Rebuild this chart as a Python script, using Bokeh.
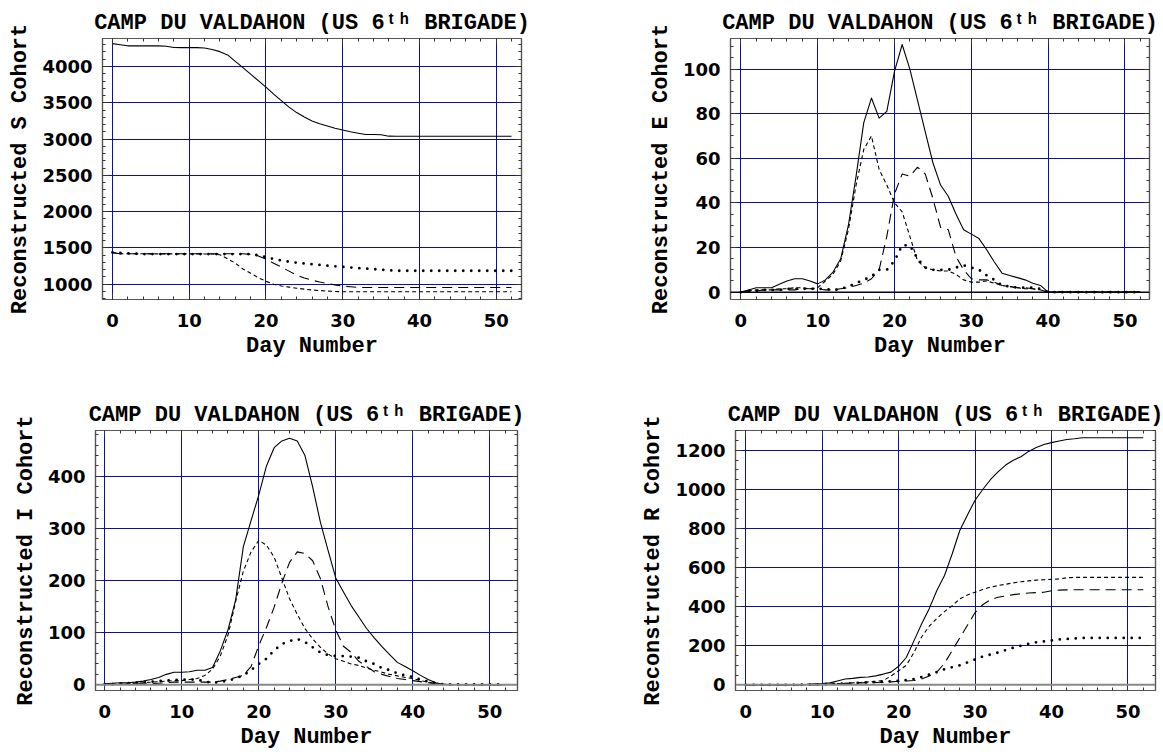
from bokeh.plotting import figure
from bokeh.models import (Range1d, SingleIntervalTicker, LinearAxis, Span,
                          CustomJSTickFormatter)
from bokeh.layouts import column, row
from bokeh.embed import file_html
from bokeh.resources import INLINE

# ---------------- data ----------------
days = list(range(53))

title_text = "CAMP DU VALDAHON (US 6\u1d57\u02b0 BRIGADE)"
x_label = "Day Number"

# S cohort
s_total = [4315, 4300, 4285, 4285, 4285, 4285, 4285, 4280, 4262, 4260,
           4260, 4260, 4255, 4235, 4205, 4160, 4070, 3985, 3895, 3805,
           3715, 3620, 3530, 3440, 3365, 3305, 3250, 3210, 3180, 3150,
           3125, 3100, 3080, 3062, 3062, 3060, 3040] + [3038] * 16
s_co1 = [1435] + [1420, 1420, 1420, 1420, 1418, 1418, 1418, 1418, 1418, 1418, 1418, 1416, 1416] + \
        [1405, 1350, 1290, 1210, 1150, 1090, 1040, 1000, 975, 960, 945, 932, 920, 912, 905, 900] + [895] * 23
s_co2 = [1435] + [1420] * 17 + \
        [1410, 1390, 1345, 1290, 1235, 1180, 1125, 1085, 1055, 1030, 1010, 990, 975, 965] + [955] * 21
s_co3 = [1438, 1430, 1425, 1420] + [1415] * 15 + \
        [1398, 1372, 1348, 1326, 1310, 1296, 1285, 1275, 1265, 1255, 1246, 1238,
         1230, 1222, 1215, 1208, 1200, 1193] + [1185] * 16

# E cohort
e_total = [0, 1, 2, 2, 2, 3.5, 5, 6, 6, 5, 3.7, 5.5, 9, 15, 30, 52, 76, 87, 78, 81,
           99, 111, 100, 86, 72, 58, 48, 43, 35, 28, 26, 24, 19, 13.5, 8.5, 7.5, 6.5, 5.5, 4, 3,
           0] + [0] * 12
e_co1 = [0, 0.5, 1, 1, 1, 1.5, 1.5, 2, 2, 1.5, 2, 5, 8, 14, 28, 48, 64, 70, 55, 48,
         40, 36, 25, 14, 11, 10, 9.5, 9.5, 8, 5.5, 4.5, 4.5, 5, 4, 3, 2.5, 2, 1.5, 1.5, 1,
         0] + [0] * 12
e_co2 = [0, 0.5, 0.5, 1, 1, 1, 1, 1, 1.5, 1.5, 1.5, 1, 1, 1.5, 2, 3, 4, 6, 10, 25,
         44, 53, 52, 56, 53, 42, 29, 28, 16, 10, 6, 5.5, 5.5, 4.5, 3, 2.5, 2, 2, 1.5, 1,
         0] + [0] * 12
e_co3 = [0, 0.5, 0.5, 1, 1, 1, 1.5, 1.5, 1.5, 1.5, 1.5, 1.5, 0.8, 1.5, 2.5, 4, 5.5, 7, 10, 10,
         14, 21, 21, 15, 11, 10, 10, 10, 11, 12, 11, 10, 7.5, 5.5, 3, 2.5, 2, 2, 2, 1.5,
         0] + [0] * 12

# I cohort
i_total = [2, 3, 4, 4, 5, 7, 10, 14, 20, 24, 24, 25, 28, 28, 33, 65, 105, 163, 265, 315,
           364, 420, 455, 468, 473, 468, 440, 380, 312, 258, 205, 178, 152, 130, 108,
           90, 73, 58, 43, 35, 27, 18, 10, 4, 1, 0.5, 0, 0, 0, 0, 0, 0, 0]
i_co1 = [1, 1, 1.5, 2, 3, 4, 5, 6, 7, 8, 8, 10, 12, 18, 30, 55, 95, 160, 218, 255,
         277, 268, 245, 205, 165, 135, 108, 88, 72, 59, 50, 45, 40, 37, 32,
         28, 24, 20, 17, 14, 12, 8, 5, 2, 1, 0, 0, 0, 0, 0, 0, 0, 0]
i_co2 = [1, 1, 1, 1.5, 2, 2, 2, 3, 4, 5, 5, 5, 5, 5, 5, 7, 10, 14, 18, 35,
         75, 110, 149, 195, 235, 255, 252, 238, 204, 150, 105, 74, 62, 45, 35,
         25, 20, 16, 12, 10, 8, 6, 4, 2, 1, 0, 0, 0, 0, 0, 0, 0, 0]
i_co3 = [1, 1, 2, 3, 4, 5, 6, 7, 8, 9, 10, 10, 10, 6, 4, 5, 8, 12, 18, 28,
         40, 50, 66, 78, 84, 88, 82, 72, 62, 57, 55, 55, 54, 52, 45,
         40, 32, 28, 22, 18, 15, 10, 6, 3, 1, 0.5, 0.5, 0.5, 0.5, 0.5, 0.5, 0.5, 0.5]

# R cohort
r_total = [0, 0, 0, 0, 0, 0, 1, 2, 3, 5, 7, 10, 20, 30, 33, 38, 40, 46, 55, 65,
           95, 140, 225, 311, 390, 483, 560, 670, 790, 870, 945, 1000, 1050, 1090, 1125,
           1150, 1168, 1195, 1215, 1230, 1240, 1248, 1256, 1260, 1265] + [1265] * 8
r_co1 = [0] * 8 + [1, 2, 3, 4, 6, 8, 10, 12, 15, 18, 22, 45,
                   72, 100, 165, 245, 300, 340, 375, 405, 440, 460,
                   474, 488, 500, 508, 515, 522, 528, 532, 536, 538,
                   540, 542, 548, 550, 550] + [550] * 8
r_co2 = [0] * 10 + [1, 3, 5, 7, 8, 10, 11, 12, 13, 15, 18, 20, 22, 30, 45,
                    65, 110, 175, 240, 305, 370, 410, 435, 448, 455,
                    462, 466, 470, 472, 474, 482, 485, 486, 487, 487] + [487] * 8
r_co3 = [0, 0, 0, 0, 0, 0, 0, 0, 1, 1, 2, 4, 5, 6, 8, 10, 12, 14, 16, 18,
         20, 24, 30, 40, 52, 65, 80, 90, 100, 115, 130, 145, 155, 165, 178,
         190, 200, 210, 218, 222, 227, 232, 235, 237, 240] + [240] * 8

# ---------------- styling ----------------
MONO = "Liberation Mono"
SANS = "DejaVu Sans"
GRID = "#0d0daa"
FRAME = "#555555"


def tick_axis(ax, ticker):
    ax.ticker = ticker
    ax.major_tick_in = 6
    ax.major_tick_out = 0
    ax.minor_tick_in = 3
    ax.minor_tick_out = 0
    ax.axis_line_color = FRAME
    ax.axis_line_width = 1.2
    ax.major_tick_line_color = "#333333"
    ax.minor_tick_line_color = "#333333"


def make_panel(ylabel, series, yr, yint, yminor, width, height, borders,
               xr=(-1.3, 53.3), zero=None):
    left, right, top, bottom = borders
    p = figure(width=width, height=height, output_backend="svg", toolbar_location=None,
               x_range=Range1d(*xr), y_range=Range1d(*yr),
               min_border_left=left, min_border_right=right,
               min_border_top=top, min_border_bottom=bottom)
    p.background_fill_color = "white"
    p.border_fill_color = "white"
    p.outline_line_color = FRAME
    p.outline_line_width = 1.2

    p.title.text = title_text
    p.title.text_font = MONO
    p.title.text_font_style = "bold"
    p.title.text_font_size = "22px"
    p.title.text_color = "black"
    p.title.align = "center"
    p.title.standoff = 6

    xt = SingleIntervalTicker(interval=10, num_minor_ticks=5)
    yt = SingleIntervalTicker(interval=yint, num_minor_ticks=yminor)
    tick_axis(p.xaxis[0], xt)
    tick_axis(p.yaxis[0], yt)
    for ax in (p.xaxis[0], p.yaxis[0]):
        ax.major_label_text_font = SANS
        ax.major_label_text_font_style = "bold"
        ax.major_label_text_font_size = "18px"
        ax.major_label_text_color = "black"
        ax.axis_label_text_font = MONO
        ax.axis_label_text_font_style = "bold"
        ax.axis_label_text_font_size = "22px"
        ax.axis_label_text_color = "black"
    p.xaxis[0].major_label_standoff = 14
    p.xaxis[0].axis_label = x_label
    p.xaxis[0].axis_label_standoff = 4
    p.yaxis[0].major_label_standoff = 10
    p.yaxis[0].axis_label = ylabel
    p.yaxis[0].axis_label_standoff = 6

    blank = CustomJSTickFormatter(code="return ''")
    top_ax = LinearAxis(formatter=blank, major_label_text_font_size="1px", major_label_standoff=0)
    tick_axis(top_ax, xt)
    right_ax = LinearAxis(formatter=blank, major_label_text_font_size="1px", major_label_standoff=0)
    tick_axis(right_ax, yt)
    p.add_layout(top_ax, "above")
    p.add_layout(right_ax, "right")

    p.xgrid.ticker = xt
    p.ygrid.ticker = yt
    for g in (p.xgrid[0], p.ygrid[0]):
        g.grid_line_color = GRID
        g.grid_line_width = 1
    p.xgrid.minor_grid_line_color = None
    p.ygrid.minor_grid_line_color = None

    if zero is not None:
        p.add_layout(Span(location=0, dimension="width", line_color=zero[0], line_width=zero[1]))

    total, c1, c2, c3 = series
    p.line(days, total, line_color="black", line_width=1.1, line_join="round")
    p.line(days, c1, line_color="black", line_width=1.1, line_dash="4 3")
    p.line(days, c2, line_color="black", line_width=1.1, line_dash="10 6")
    p.line(days, c3, line_color="black", line_width=2.8, line_dash="0 8", line_cap="round")
    return p


# layout (page coords: canvas starts at 0,0)
p1 = make_panel("Reconstructed S Cohort", (s_total, s_co1, s_co2, s_co3), (789, 4386), 500, 5,
                588, 370, (102, 67, 38, 71))
p2 = make_panel("Reconstructed E Cohort", (e_total, e_co1, e_co2, e_co3), (-3.3, 113.7), 20, 4,
                574, 370, (142, 13, 38, 71), xr=(-1.35, 53.2), zero=("black", 1.2))
p3 = make_panel("Reconstructed I Cohort", (i_total, i_co1, i_co2, i_co3), (-11, 488), 100, 5,
                588, 384, (95, 71, 60, 64), xr=(-1.2, 53.6), zero=("#888888", 2))
p4 = make_panel("Reconstructed R Cohort", (r_total, r_co1, r_co2, r_co3), (-29, 1302), 200, 4,
                574, 384, (147, 7, 60, 64), xr=(-1.34, 53.6), zero=("#888888", 2))

layout = column(row(p1, p2), row(p3, p4))
open("out.html", "w").write(file_html(layout, INLINE))
